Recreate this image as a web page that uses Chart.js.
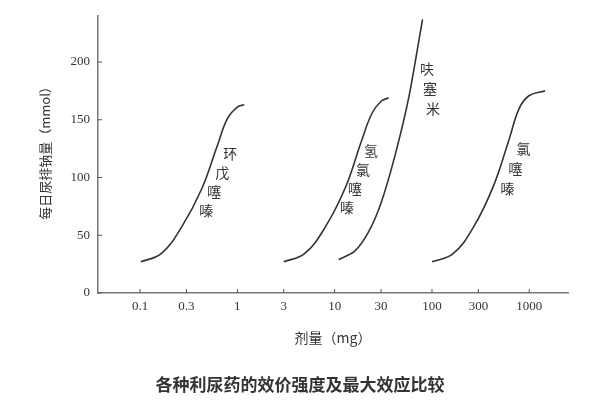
<!DOCTYPE html>
<html>
<head>
<meta charset="utf-8">
<script src="https://cdn.jsdelivr.net/npm/chart.js@4"></script>
<style>html,body{margin:0;background:#fff}</style>
</head>
<body>
<canvas id="c" width="600" height="400"></canvas>
<script>
// dose (mg) / sodium excretion (mmol/day)
const cyclopenthiazide = [[0.102,27],[0.165,34],[0.267,57],[0.43,90],[0.62,127],[0.79,151],[1.0,161],[1.18,163]]
const hydrochlorothiazide = [[3.0,27],[4.9,34],[8,57],[13,92],[18.6,130],[24,155],[30,166],[36,169]]
const furosemide = [[11,29],[16,36],[22,52],[30,78],[42,120],[58,170],[80,237]]
const chlorothiazide = [[100,27],[165,34],[267,57],[430,93],[620,133],[790,160],[1000,171],[1450,175]]
const xTicks = [0.1, 0.3, 1, 3, 10, 30, 100, 300, 1000]
const yTicks = [0, 50, 100, 150, 200]
const labels = [
  {text: '环戊噻嗪', x: 0.845, y: 121, dx: -8, dy: 19},
  {text: '氢氯噻嗪', x: 23.7, y: 123, dx: -8, dy: 19},
  {text: '呋塞米', x: 89, y: 194, dx: 3, dy: 20},
  {text: '氯噻嗪', x: 870, y: 125, dx: -8, dy: 20}
]
const font = "'Liberation Serif', 'Noto Sans CJK SC', serif"
const cjk = "'Noto Sans CJK SC', serif"

const toPts = arr => arr.map(p => ({x: p[0], y: p[1]}))
const line = (arr, t) => ({data: toPts(arr), borderColor: '#333', borderWidth: 1.6, pointRadius: 0, tension: t, fill: false})

const extras = {
  id: 'extras',
  afterDraw(chart) {
    const {ctx, scales: {x, y}, chartArea: a} = chart
    ctx.save()
    ctx.strokeStyle = '#555'
    ctx.lineWidth = 1
    xTicks.forEach(v => {
      const px = x.getPixelForValue(v)
      ctx.beginPath(); ctx.moveTo(px, a.bottom); ctx.lineTo(px, a.bottom - 4); ctx.stroke()
    })
    yTicks.forEach(v => {
      const py = y.getPixelForValue(v)
      ctx.beginPath(); ctx.moveTo(a.left, py); ctx.lineTo(a.left + 4, py); ctx.stroke()
    })
    ctx.fillStyle = '#333'
    ctx.font = '14px ' + cjk
    ctx.textAlign = 'center'
    ctx.textBaseline = 'middle'
    labels.forEach(l => {
      const px = x.getPixelForValue(l.x), py = y.getPixelForValue(l.y)
      ;[...l.text].forEach((ch, i) => ctx.fillText(ch, px + i * l.dx, py + i * l.dy))
    })
    ctx.font = '14px ' + cjk
    ctx.fillText('剂量（mg）', 333, 338)
    ctx.font = 'bold 17px ' + cjk
    ctx.fillText('各种利尿药的效价强度及最大效应比较', 300, 385)
    ctx.translate(45, 150)
    ctx.rotate(-Math.PI / 2)
    ctx.font = '13px ' + cjk
    ctx.fillText('每日尿排钠量（mmol）', 0, 0)
    ctx.restore()
  }
}

new Chart(document.getElementById('c'), {
  type: 'line',
  data: {datasets: [line(cyclopenthiazide, 0.4), line(hydrochlorothiazide, 0.4), line(furosemide, 0.25), line(chlorothiazide, 0.4)]},
  options: {
    responsive: false,
    animation: false,
    layout: {padding: {left: 0, right: 32, top: -6, bottom: 0}},
    plugins: {legend: {display: false}, tooltip: {enabled: false}},
    scales: {
      x: {
        type: 'logarithmic', min: 0.037, max: 2500,
        afterBuildTicks: s => { s.ticks = xTicks.map(v => ({value: v})) },
        afterFit: s => { s.height = 107 },
        ticks: {color: '#333', font: {family: font, size: 13}, autoSkip: false, maxRotation: 0, padding: 6,
          callback: v => String(v)},
        grid: {display: false, drawTicks: false},
        border: {color: '#777', width: 1.5}
      },
      y: {
        min: 0, max: 240,
        afterBuildTicks: s => { s.ticks = yTicks.map(v => ({value: v})) },
        afterFit: s => { s.width = 98 },
        ticks: {color: '#333', font: {family: font, size: 13}, padding: 8},
        grid: {display: false, drawTicks: false},
        border: {color: '#777', width: 1.5}
      }
    }
  },
  plugins: [extras]
})
</script>
</body>
</html>
